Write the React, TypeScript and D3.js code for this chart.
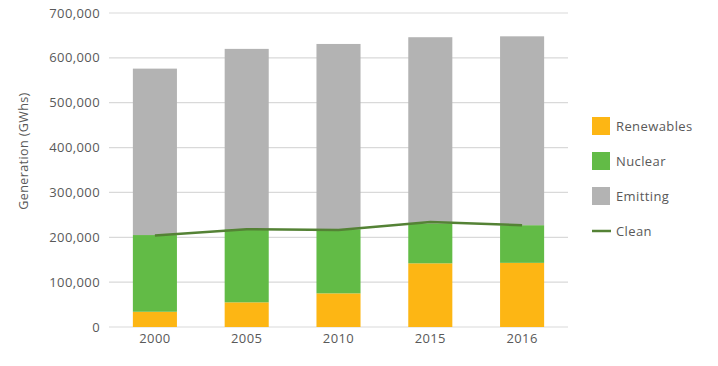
import { useRef, useEffect } from "react";
import * as d3 from "d3";

const years = ["2000", "2005", "2010", "2015", "2016"];
const renewables = [34000, 55000, 75000, 142000, 143000];
const nuclear = [171000, 163000, 143000, 89000, 84000];
const emitting = [371000, 402000, 413000, 415000, 421000];
const clean = [204000, 218000, 216000, 234000, 227000];
const yTicks = [0, 100000, 200000, 300000, 400000, 500000, 600000, 700000];

const seriesNames = ["Renewables", "Nuclear", "Emitting"];
const colors: Record<string, string> = {
  Renewables: "#FDB614",
  Nuclear: "#62BB46",
  Emitting: "#B3B3B3",
  Clean: "#548235",
};

const W = 718;
const H = 366;
const FONT = "'Open Sans', sans-serif";
const TEXT = "#595959";
const LS = "0.4px";

const App: React.FC = () => {
  const svgRef = useRef<SVGSVGElement | null>(null);

  useEffect(() => {
    if (!svgRef.current) return;
    const svg = d3.select(svgRef.current);
    svg.selectAll("*").remove();

    const margin = { top: 13, right: 150, bottom: 39, left: 109 };
    const width = W - margin.left - margin.right;
    const height = H - margin.top - margin.bottom;

    const g = svg
      .append("g")
      .attr("transform", `translate(${margin.left},${margin.top})`);

    const x = d3.scaleBand().domain(years).range([0, width]).paddingInner(0.52).paddingOuter(0.26);
    const y = d3.scaleLinear().domain([0, 700000]).range([height, 0]);

    // gridlines
    g.selectAll("line.grid")
      .data(yTicks)
      .join("line")
      .attr("x1", 0)
      .attr("x2", width)
      .attr("y1", (d) => y(d))
      .attr("y2", (d) => y(d))
      .attr("stroke", "#D9D9D9")
      .attr("stroke-width", 1.2);

    // y labels
    g.selectAll("text.ylab")
      .data(yTicks)
      .join("text")
      .attr("x", -9)
      .attr("y", (d) => y(d))
      .attr("dy", "0.35em")
      .attr("text-anchor", "end")
      .attr("font-family", FONT)
      .attr("font-size", 13)
      .attr("letter-spacing", LS)
      .attr("fill", TEXT)
      .text((d) => d3.format(",")(d));

    // stacked bars
    const rows = years.map((yr, i) => ({
      year: yr,
      Renewables: renewables[i],
      Nuclear: nuclear[i],
      Emitting: emitting[i],
    }));
    const stack = d3.stack<any>().keys(seriesNames)(rows);

    stack.forEach((layer) => {
      g.append("g")
        .selectAll("rect")
        .data(layer)
        .join("rect")
        .attr("x", (d) => x(d.data.year)!)
        .attr("width", x.bandwidth())
        .attr("y", (d) => y(d[1]))
        .attr("height", (d) => y(d[0]) - y(d[1]))
        .attr("fill", colors[layer.key]);
    });

    // clean line
    const line = d3
      .line<number>()
      .x((_, i) => x(years[i])! + x.bandwidth() / 2)
      .y((d) => y(d));
    g.append("path")
      .datum(clean)
      .attr("fill", "none")
      .attr("stroke", colors.Clean)
      .attr("stroke-width", 2.5)
      .attr("d", line);

    // x labels
    g.selectAll("text.xlab")
      .data(years)
      .join("text")
      .attr("x", (d) => x(d)! + x.bandwidth() / 2)
      .attr("y", height + 16)
      .attr("text-anchor", "middle")
      .attr("font-family", FONT)
      .attr("font-size", 13)
      .attr("letter-spacing", LS)
      .attr("fill", TEXT)
      .text((d) => d);

    // y title
    svg
      .append("text")
      .attr("transform", `translate(28,151) rotate(-90)`)
      .attr("text-anchor", "middle")
      .attr("font-family", FONT)
      .attr("font-size", 12.5)
      .attr("letter-spacing", LS)
      .attr("fill", TEXT)
      .text("Generation (GWhs)");

    // legend
    const legend = svg.append("g").attr("transform", "translate(592,117)");
    const items = [...seriesNames, "Clean"];
    items.forEach((name, i) => {
      const row = legend.append("g").attr("transform", `translate(0,${i * 35})`);
      if (name === "Clean") {
        row.append("line")
          .attr("x1", 0)
          .attr("x2", 19)
          .attr("y1", 9)
          .attr("y2", 9)
          .attr("stroke", colors.Clean)
          .attr("stroke-width", 2.5);
      } else {
        row.append("rect")
          .attr("width", 18)
          .attr("height", 18)
          .attr("fill", colors[name]);
      }
      row.append("text")
        .attr("x", 24)
        .attr("y", 9)
        .attr("dy", "0.35em")
        .attr("font-family", FONT)
        .attr("font-size", 13)
        .attr("letter-spacing", LS)
        .attr("fill", TEXT)
        .text(name);
    });
  }, []);

  return (
    <svg
      ref={svgRef}
      width={W}
      height={H}
      style={{ position: "absolute", left: 0, top: 0, background: "#fff" }}
    />
  );
};

export default App;
